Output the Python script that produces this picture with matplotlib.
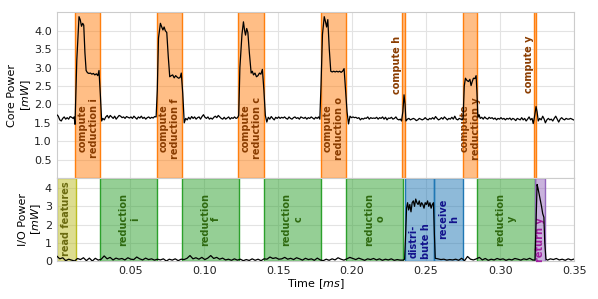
import matplotlib.pyplot as plt
from matplotlib.colors import to_rgba

# core power trace (time in ms, power in mW)
core_time = [
    0.0005, 0.0015, 0.0025, 0.0035, 0.0045, 0.0055, 0.0065, 0.0075, 0.0085, 0.0095,
    0.0105, 0.0115, 0.0122, 0.0128, 0.0140, 0.0155, 0.0163, 0.0172, 0.0180, 0.0187,
    0.0195, 0.0203, 0.0212, 0.0222, 0.0232, 0.0242, 0.0252, 0.0262, 0.0272, 0.0282,
    0.0290, 0.0300, 0.0308, 0.0316, 0.0326, 0.0336, 0.0346, 0.0356, 0.0366, 0.0376,
    0.0386, 0.0396, 0.0406, 0.0416, 0.0426, 0.0436, 0.0446, 0.0456, 0.0466, 0.0476,
    0.0486, 0.0496, 0.0506, 0.0516, 0.0526, 0.0536, 0.0546, 0.0556, 0.0566, 0.0576,
    0.0586, 0.0596, 0.0606, 0.0616, 0.0626, 0.0636, 0.0646, 0.0656, 0.0666, 0.0676,
    0.0684, 0.0692, 0.0705, 0.0714, 0.0722, 0.0730, 0.0738, 0.0748, 0.0758, 0.0768,
    0.0778, 0.0788, 0.0798, 0.0808, 0.0818, 0.0828, 0.0838, 0.0846, 0.0856, 0.0866,
    0.0876, 0.0886, 0.0896, 0.0906, 0.0916, 0.0926, 0.0936, 0.0946, 0.0956, 0.0966,
    0.0976, 0.0986, 0.0996, 0.1006, 0.1016, 0.1026, 0.1036, 0.1046, 0.1056, 0.1066,
    0.1076, 0.1086, 0.1096, 0.1106, 0.1116, 0.1126, 0.1136, 0.1146, 0.1156, 0.1166,
    0.1176, 0.1186, 0.1196, 0.1206, 0.1216, 0.1226, 0.1234, 0.1242, 0.1256, 0.1266,
    0.1274, 0.1280, 0.1288, 0.1296, 0.1306, 0.1318, 0.1326, 0.1334, 0.1344, 0.1354,
    0.1364, 0.1374, 0.1384, 0.1394, 0.1404, 0.1414, 0.1424, 0.1434, 0.1444, 0.1454,
    0.1464, 0.1474, 0.1484, 0.1494, 0.1504, 0.1514, 0.1524, 0.1534, 0.1544, 0.1554,
    0.1564, 0.1574, 0.1584, 0.1594, 0.1604, 0.1614, 0.1624, 0.1634, 0.1644, 0.1654,
    0.1664, 0.1674, 0.1684, 0.1694, 0.1704, 0.1714, 0.1724, 0.1734, 0.1744, 0.1754,
    0.1764, 0.1774, 0.1782, 0.1790, 0.1800, 0.1812, 0.1820, 0.1828, 0.1836, 0.1846,
    0.1856, 0.1866, 0.1876, 0.1886, 0.1896, 0.1906, 0.1916, 0.1926, 0.1936, 0.1946,
    0.1956, 0.1966, 0.1976, 0.1986, 0.1996, 0.2006, 0.2016, 0.2026, 0.2036, 0.2046,
    0.2056, 0.2066, 0.2076, 0.2086, 0.2096, 0.2106, 0.2116, 0.2126, 0.2136, 0.2146,
    0.2156, 0.2166, 0.2176, 0.2186, 0.2196, 0.2206, 0.2216, 0.2226, 0.2236, 0.2246,
    0.2256, 0.2266, 0.2276, 0.2286, 0.2296, 0.2306, 0.2316, 0.2326, 0.2334, 0.2343,
    0.2351, 0.2358, 0.2364, 0.2374, 0.2384, 0.2394, 0.2404, 0.2414, 0.2424, 0.2434,
    0.2444, 0.2454, 0.2464, 0.2474, 0.2484, 0.2494, 0.2504, 0.2514, 0.2524, 0.2534,
    0.2544, 0.2554, 0.2564, 0.2574, 0.2584, 0.2594, 0.2604, 0.2614, 0.2624, 0.2634,
    0.2644, 0.2654, 0.2664, 0.2674, 0.2684, 0.2694, 0.2704, 0.2714, 0.2724, 0.2734,
    0.2744, 0.2750, 0.2758, 0.2766, 0.2776, 0.2786, 0.2796, 0.2804, 0.2812, 0.2820,
    0.2830, 0.2838, 0.2844, 0.2850, 0.2858, 0.2866, 0.2876, 0.2886, 0.2896, 0.2906,
    0.2916, 0.2926, 0.2936, 0.2946, 0.2956, 0.2966, 0.2976, 0.2986, 0.2996, 0.3006,
    0.3016, 0.3026, 0.3036, 0.3046, 0.3056, 0.3066, 0.3076, 0.3086, 0.3096, 0.3106,
    0.3116, 0.3126, 0.3136, 0.3146, 0.3156, 0.3166, 0.3176, 0.3186, 0.3196, 0.3206,
    0.3216, 0.3224, 0.3234, 0.3243, 0.3250, 0.3258, 0.3268, 0.3278, 0.3288, 0.3298,
    0.3306, 0.3316, 0.3326, 0.3336, 0.3346, 0.3356, 0.3366, 0.3376, 0.3386, 0.3396,
    0.3406, 0.3416, 0.3426, 0.3436, 0.3446, 0.3456, 0.3466, 0.3476, 0.3486, 0.3496,
]
core_power = [
    1.72, 1.68, 1.58, 1.55, 1.62, 1.66, 1.60, 1.64, 1.60, 1.67,
    1.65, 1.62, 1.66, 1.46, 3.20, 4.38, 4.30, 4.12, 4.20, 4.15,
    3.40, 2.92, 2.86, 2.84, 2.85, 2.82, 2.84, 2.80, 2.83, 2.78,
    2.92, 2.20, 1.55, 1.62, 1.58, 1.66, 1.70, 1.63, 1.70, 1.66,
    1.62, 1.68, 1.60, 1.65, 1.70, 1.68, 1.64, 1.66, 1.62, 1.67,
    1.65, 1.63, 1.66, 1.62, 1.68, 1.64, 1.60, 1.66, 1.63, 1.68,
    1.62, 1.65, 1.60, 1.64, 1.66, 1.62, 1.65, 1.63, 1.67, 1.66,
    2.40, 3.80, 4.20, 4.10, 4.02, 4.10, 4.00, 3.95, 3.30, 2.75,
    2.78, 2.80, 2.72, 2.78, 2.74, 2.71, 2.73, 2.85, 2.30, 1.50,
    1.62, 1.58, 1.65, 1.60, 1.67, 1.62, 1.66, 1.60, 1.64, 1.66,
    1.60, 1.67, 1.72, 1.65, 1.62, 1.66, 1.60, 1.63, 1.60, 1.65,
    1.68, 1.64, 1.70, 1.66, 1.62, 1.60, 1.65, 1.60, 1.63, 1.66,
    1.60, 1.64, 1.62, 1.66, 1.62, 1.64, 1.70, 3.00, 3.90, 4.24,
    4.00, 3.88, 4.06, 3.95, 3.40, 2.85, 2.90, 2.80, 2.85, 2.75,
    2.78, 2.85, 2.82, 2.95, 2.40, 1.70, 1.52, 1.65, 1.60, 1.67,
    1.62, 1.58, 1.65, 1.62, 1.66, 1.62, 1.65, 1.63, 1.66, 1.62,
    1.60, 1.66, 1.62, 1.60, 1.64, 1.66, 1.62, 1.64, 1.60, 1.66,
    1.64, 1.62, 1.65, 1.60, 1.64, 1.62, 1.66, 1.63, 1.60, 1.65,
    1.62, 1.66, 1.60, 2.50, 3.90, 4.38, 4.25, 4.10, 4.30, 3.50,
    2.90, 2.88, 2.90, 2.88, 2.90, 2.88, 2.90, 2.87, 2.90, 2.97,
    2.40, 1.80, 1.47, 1.68, 1.64, 1.66, 1.64, 1.65, 1.62, 1.64,
    1.58, 1.62, 1.60, 1.63, 1.62, 1.66, 1.60, 1.64, 1.62, 1.63,
    1.62, 1.65, 1.60, 1.64, 1.62, 1.66, 1.60, 1.65, 1.58, 1.63,
    1.62, 1.65, 1.60, 1.62, 1.66, 1.60, 1.58, 1.60, 1.55, 1.80,
    2.26, 2.00, 1.55, 1.60, 1.62, 1.58, 1.60, 1.62, 1.60, 1.56,
    1.58, 1.62, 1.60, 1.58, 1.60, 1.64, 1.60, 1.58, 1.62, 1.60,
    1.64, 1.60, 1.67, 1.62, 1.58, 1.60, 1.64, 1.60, 1.66, 1.62,
    1.58, 1.62, 1.60, 1.65, 1.60, 1.68, 1.60, 1.58, 1.62, 1.60,
    1.58, 1.62, 2.50, 2.71, 2.65, 2.62, 2.68, 2.51, 2.62, 2.71,
    2.70, 2.78, 2.30, 1.65, 1.72, 1.62, 1.65, 1.60, 1.66, 1.62,
    1.60, 1.65, 1.62, 1.64, 1.60, 1.63, 1.58, 1.62, 1.60, 1.64,
    1.60, 1.62, 1.58, 1.62, 1.60, 1.63, 1.58, 1.62, 1.60, 1.56,
    1.62, 1.60, 1.58, 1.64, 1.58, 1.62, 1.55, 1.60, 1.66, 1.58,
    1.62, 1.48, 1.70, 1.94, 1.80, 1.55, 1.62, 1.58, 1.68, 1.60,
    1.50, 1.58, 1.62, 1.58, 1.60, 1.55, 1.62, 1.68, 1.60, 1.52,
    1.60, 1.64, 1.60, 1.58, 1.62, 1.60, 1.60, 1.62, 1.60, 1.58,
]

# I/O power trace
io_time = [
    0.0005, 0.0025, 0.0045, 0.0065, 0.0085, 0.0105, 0.0125, 0.0145, 0.0165, 0.0185,
    0.0205, 0.0225, 0.0245, 0.0265, 0.0285, 0.0305, 0.0325, 0.0345, 0.0365, 0.0385,
    0.0405, 0.0425, 0.0445, 0.0465, 0.0485, 0.0505, 0.0525, 0.0545, 0.0565, 0.0585,
    0.0605, 0.0625, 0.0645, 0.0665, 0.0685, 0.0705, 0.0725, 0.0745, 0.0765, 0.0785,
    0.0805, 0.0825, 0.0845, 0.0865, 0.0885, 0.0905, 0.0925, 0.0945, 0.0965, 0.0985,
    0.1005, 0.1025, 0.1045, 0.1065, 0.1085, 0.1105, 0.1125, 0.1145, 0.1165, 0.1185,
    0.1205, 0.1225, 0.1245, 0.1265, 0.1285, 0.1305, 0.1325, 0.1345, 0.1365, 0.1385,
    0.1405, 0.1425, 0.1445, 0.1465, 0.1485, 0.1505, 0.1525, 0.1545, 0.1565, 0.1585,
    0.1605, 0.1625, 0.1645, 0.1665, 0.1685, 0.1705, 0.1725, 0.1745, 0.1765, 0.1785,
    0.1805, 0.1825, 0.1845, 0.1865, 0.1885, 0.1905, 0.1925, 0.1945, 0.1965, 0.1985,
    0.2005, 0.2025, 0.2045, 0.2065, 0.2085, 0.2105, 0.2125, 0.2145, 0.2165, 0.2185,
    0.2205, 0.2225, 0.2245, 0.2265, 0.2285, 0.2305, 0.2325, 0.2345, 0.2355, 0.2362,
    0.2368, 0.2375, 0.2382, 0.2390, 0.2398, 0.2406, 0.2414, 0.2422, 0.2430, 0.2438,
    0.2446, 0.2454, 0.2462, 0.2470, 0.2478, 0.2486, 0.2494, 0.2502, 0.2510, 0.2518,
    0.2526, 0.2534, 0.2542, 0.2550, 0.2556, 0.2562, 0.2580, 0.2600, 0.2620, 0.2640,
    0.2660, 0.2680, 0.2700, 0.2720, 0.2740, 0.2760, 0.2780, 0.2800, 0.2820, 0.2840,
    0.2860, 0.2880, 0.2900, 0.2920, 0.2940, 0.2960, 0.2980, 0.3000, 0.3020, 0.3040,
    0.3060, 0.3080, 0.3100, 0.3120, 0.3140, 0.3160, 0.3180, 0.3200, 0.3220, 0.3236,
    0.3244, 0.3250, 0.3256, 0.3264, 0.3272, 0.3280, 0.3288, 0.3296, 0.3302, 0.3310,
    0.3320, 0.3340, 0.3360, 0.3380, 0.3400, 0.3420, 0.3440, 0.3460, 0.3480, 0.3496,
]
io_power = [
    0.27, 0.12, 0.18, 0.02, 0.10, 0.05, 0.00, 0.14, 0.08, 0.18,
    0.02, 0.16, 0.00, 0.15, 0.05, 0.10, 0.28, 0.12, 0.20, 0.06,
    0.16, 0.10, 0.14, 0.06, 0.18, 0.10, 0.08, 0.22, 0.12, 0.06,
    0.16, 0.08, 0.12, 0.05, 0.10, 0.06, 0.12, 0.00, 0.10, 0.05,
    0.12, 0.02, 0.10, 0.08, 0.15, 0.30, 0.12, 0.18, 0.10, 0.20,
    0.08, 0.16, 0.30, 0.14, 0.20, 0.10, 0.16, 0.06, 0.10, 0.04,
    0.12, 0.05, 0.10, 0.02, 0.08, 0.03, 0.12, 0.04, 0.10, 0.02,
    0.12, 0.10, 0.22, 0.14, 0.18, 0.10, 0.12, 0.20, 0.10, 0.15,
    0.08, 0.18, 0.12, 0.05, 0.15, 0.08, 0.12, 0.04, 0.16, 0.06,
    0.02, 0.10, 0.04, 0.12, 0.06, 0.18, 0.10, 0.05, 0.12, 0.20,
    0.14, 0.08, 0.16, 0.10, 0.04, 0.12, 0.08, 0.14, 0.06, 0.12,
    0.04, 0.10, 0.06, 0.12, 0.04, 0.08, 0.05, 0.05, 0.10, 1.50,
    2.90, 3.20, 2.80, 3.10, 2.70, 3.20, 3.30, 3.00, 3.40, 3.20,
    3.10, 3.30, 3.00, 3.20, 3.10, 2.90, 3.20, 3.10, 3.30, 3.00,
    3.20, 2.90, 3.10, 3.20, 1.50, 0.15, 0.12, 0.08, 0.10, 0.05,
    0.08, 0.06, 0.10, 0.04, 0.15, 0.02, 0.25, 0.10, 0.06, 0.12,
    0.20, 0.06, 0.14, 0.04, 0.10, 0.06, 0.14, 0.08, 0.12, 0.04,
    0.10, 0.06, 0.14, 0.10, 0.05, 0.12, 0.08, 0.15, 0.06, 0.05,
    2.50, 4.20, 4.00, 3.66, 3.30, 3.00, 2.60, 2.40, 1.00, 0.10,
    0.05, 0.12, 0.08, 0.14, 0.06, 0.10, 0.04, 0.12, 0.06, 0.10,
]

# compute phases (top panel)
compute_start = [0.0131, 0.0680, 0.1232, 0.1788, 0.2340, 0.2748, 0.3230]
compute_end = [0.0300, 0.0853, 0.1408, 0.1959, 0.2360, 0.2845, 0.3241]
compute_labels = ['compute\nreduction i', 'compute\nreduction f', 'compute\nreduction c',
                  'compute\nreduction o', 'compute h', 'compute\nreduction y', 'compute y']

# I/O phases (bottom panel)
io_start = [0.0005, 0.0300, 0.0853, 0.1405, 0.1959, 0.2360, 0.2556, 0.2845, 0.3234]
io_end = [0.0135, 0.0684, 0.1234, 0.1788, 0.2347, 0.2556, 0.2748, 0.3234, 0.3304]
io_labels = ['read features', 'reduction\ni', 'reduction\nf', 'reduction\nc', 'reduction\no',
             'distri-\nbute h', 'receive\nh', 'reduction\ny', 'return y']
io_kind = ['read', 'red', 'red', 'red', 'red', 'comm', 'comm', 'red', 'ret']

# colours
fill = {'compute': '#ff7f0e', 'read': '#bcbd22', 'red': '#2ca02c', 'comm': '#1f77b4', 'ret': '#9467bd'}
ink = {'compute': '#8a3c00', 'read': '#6b6b10', 'red': '#2f6a10', 'comm': '#12128c', 'ret': '#a0209f'}

plt.rcParams['font.family'] = 'DejaVu Sans'
plt.rcParams['font.size'] = 8
plt.rcParams['axes.edgecolor'] = '#cccccc'
plt.rcParams['grid.color'] = '#e3e3e3'
plt.rcParams['xtick.major.size'] = 0
plt.rcParams['ytick.major.size'] = 0
plt.rcParams['xtick.color'] = '#222222'
plt.rcParams['ytick.color'] = '#222222'

fig = plt.figure(figsize=(5.98, 2.99), dpi=100)
gs = fig.add_gridspec(2, 1, height_ratios=[2, 1], hspace=0,
                      left=0.095, right=0.96, top=0.959, bottom=0.127)
ax1 = fig.add_subplot(gs[0])
ax2 = fig.add_subplot(gs[1], sharex=ax1)

for ax in (ax1, ax2):
    ax.set_axisbelow(True)
    ax.grid(True, lw=0.8)

# top: compute spans
for a, b, lab in zip(compute_start, compute_end, compute_labels):
    c = fill['compute']
    ax1.axvspan(a, b, facecolor=to_rgba(c, 0.5), edgecolor=c, lw=1, zorder=1)
    if b - a < 0.005:
        # narrow spans get their label on the left
        ax1.text(a - 0.0035, 3.08, lab, rotation=90, ha='center', va='center',
                 fontsize=7, fontweight='bold', color=ink['compute'], zorder=3)
    else:
        ax1.text((a + b) / 2, 1.35, lab, rotation=90, ha='center', va='center',
                 fontsize=7, fontweight='bold', color=ink['compute'], zorder=3)

ax1.plot(core_time, core_power, color='black', lw=0.9, zorder=4)
ax1.set_ylim(0, 4.5)
ax1.set_yticks([0.5, 1.0, 1.5, 2.0, 2.5, 3.0, 3.5, 4.0])
ax1.set_ylabel('Core Power\n[$mW$]', labelpad=1)
ax1.tick_params(labelbottom=False)

# bottom: I/O spans
label_y = {'distri-\nbute h': 1.1, 'return y': 1.15}
for a, b, lab, k in zip(io_start, io_end, io_labels, io_kind):
    c = fill[k]
    ax2.axvspan(a, b, facecolor=to_rgba(c, 0.5), edgecolor=c, lw=1, zorder=1)
    ax2.text((a + b) / 2, label_y.get(lab, 2.3), lab, rotation=90, ha='center', va='center',
             fontsize=7, fontweight='bold', color=ink[k], zorder=3)

ax2.plot(io_time, io_power, color='black', lw=0.9, zorder=4)
ax2.set_ylim(0, 4.55)
ax2.set_yticks([0, 1, 2, 3, 4])
ax2.set_ylabel('I/O Power\n[$mW$]', labelpad=1)
ax2.set_xlim(0.0005, 0.35)
ax2.set_xticks([0.05, 0.10, 0.15, 0.20, 0.25, 0.30, 0.35])
ax2.set_xticklabels(['0.05', '0.10', '0.15', '0.20', '0.25', '0.30', '0.35'])
ax2.set_xlabel('Time [$ms$]', labelpad=1)

fig.savefig('out.png', dpi=100)
